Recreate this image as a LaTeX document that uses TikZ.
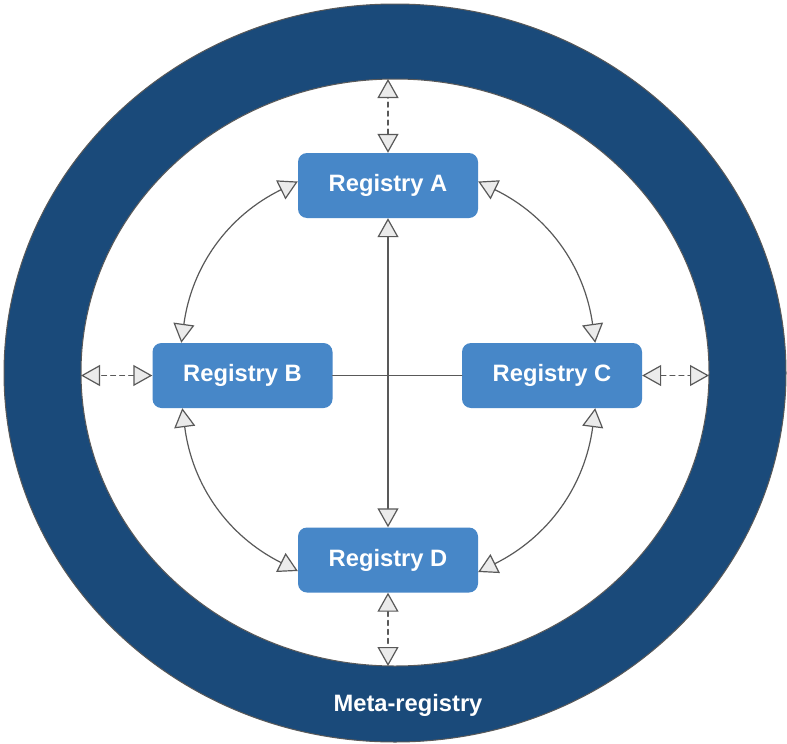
\documentclass[tikz,border=0pt]{standalone}
\usepackage{fontspec}
\setmainfont{Liberation Sans}
\usetikzlibrary{arrows.meta}
\usetikzlibrary{calc}
\definecolor{metablue}{HTML}{1A4A7A}
\definecolor{regblue}{HTML}{4787C8}
\definecolor{linegray}{HTML}{595959}
\definecolor{tipgray}{HTML}{EBEBEB}

\begin{document}
\begin{tikzpicture}[x=1pt, y=1pt, % one unit is one pixel of the picture
                    line join=round, line cap=round, % makes the corners look nicer
                    >={Triangle[fill=tipgray, length=19pt, width=21pt, line cap=butt]},
                    registry/.style = {fill=regblue, rounded corners=9pt, inner sep=0pt,
                                       minimum width=180pt, minimum height=65pt, text=white,
                                       font=\fontsize{23.7}{28}\selectfont\bfseries},
                    link/.style = {draw=linegray, line width=1.2pt},
                    outer/.style = {link, dash pattern=on 5pt off 4pt}
                   ]
  \useasboundingbox (0,0) rectangle (787,-744);
  % the meta-registry ring
  \draw[linegray, line width=1pt, fill=metablue] (395,-373) ellipse [x radius=391, y radius=369];
  \draw[linegray, line width=1pt, fill=white] (395,-372.5) ellipse [x radius=314, y radius=293.5];
  \node[text=white, font=\fontsize{23.7}{28}\selectfont\bfseries] (meta) at (408,-705) {Meta-registry};

  \node[registry] (regA) at (388,-185.5) {Registry A};
  \node[registry] (regB) at (242.5,-375.5) {Registry B};
  \node[registry] (regC) at (552,-375.5) {Registry C};
  \node[registry] (regD) at (388,-560) {Registry D};

  % where the dashed links meet the ring
  \coordinate (ringN) at (388,-79);
  \coordinate (ringW) at (81,-375.5);
  \coordinate (ringE) at (709,-375.5);
  \coordinate (ringS) at (388,-666);

  \draw[link] (regB.east) -- (regC.west);
  \draw[link, <->] (regA.south) -- (regD.north);
  \draw[link, <->] ($(regA.west)+(0,4)$) to[bend right=28] ($(regB.north west)+(29,0)$);
  \draw[link, <->] ($(regA.east)+(0,4)$) to[bend left=28] ($(regC.north east)+(-47,0)$);
  \draw[link, <->] ($(regB.south west)+(30,0)$) to[bend right=28] ($(regD.west)+(0,-11)$);
  \draw[link, <->] ($(regC.south east)+(-47,0)$) to[bend left=28] ($(regD.east)+(0,-12)$);

  \draw[outer, <->] (regA.north) -- (ringN);
  \draw[outer, <->] (regB.west) -- (ringW);
  \draw[outer, <->] (regC.east) -- (ringE);
  \draw[outer, <->] (regD.south) -- (ringS);
\end{tikzpicture}
\end{document}
